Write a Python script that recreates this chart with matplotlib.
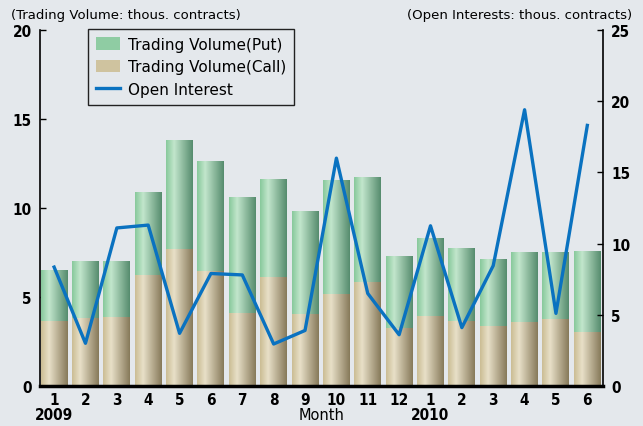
import numpy as np
import matplotlib
matplotlib.use('Agg')
import matplotlib.pyplot as plt
from matplotlib.patches import Patch
from matplotlib.lines import Line2D
from matplotlib import font_manager as fm

months = ['1', '2', '3', '4', '5', '6', '7', '8', '9', '10', '11', '12',
          '1', '2', '3', '4', '5', '6']
total_vol = [6.5, 7.0, 7.0, 10.9, 13.8, 12.6, 10.6, 11.6, 9.8, 11.5, 11.7, 7.25,
             8.3, 7.7, 7.1, 7.5, 7.5, 7.6]
call_vol = [3.65, 3.8, 3.9, 6.25, 7.7, 6.45, 4.1, 6.15, 4.05, 5.15, 5.85, 3.25,
            3.95, 3.65, 3.35, 3.6, 3.75, 3.05]
put_vol = [t - c for t, c in zip(total_vol, call_vol)]
open_interest = [8.35, 3.0, 11.1, 11.3, 3.7, 7.9, 7.8, 2.95, 3.9, 16.0, 6.5, 3.6,
                 11.25, 4.1, 8.45, 19.4, 5.1, 18.3]

BG = '#e4e8ec'
BLUE = '#0a72c0'

# condensed bold font for the numbers
bold_fp = fm.FontProperties(family='DejaVu Sans', weight='bold', stretch='condensed', size=11)

fig = plt.figure(figsize=(6.43, 4.27), dpi=100, facecolor=BG)
ax = fig.add_axes([40/643, 1 - 387/427, 563/643, 356/427])
ax.set_facecolor(BG)

x = np.arange(len(months))
width = 0.86


def hex2rgb(h):
    return [int(h[i:i + 2], 16) / 255 for i in (1, 3, 5)]


def shade(c_edge, c_light, c_dark):
    # cylinder-like gradient across bar
    c_edge, c_light, c_dark = hex2rgb(c_edge), hex2rgb(c_light), hex2rgb(c_dark)
    cols = []
    for p in np.linspace(0, 1, 64):
        if p < 0.3:
            t = p / 0.3
            a, b = c_edge, c_light
        else:
            t = (p - 0.3) / 0.7
            a, b = c_light, c_dark
        cols.append([a[i] + (b[i] - a[i]) * t for i in range(3)])
    return np.array([cols])


green = shade('#88c99c', '#c2e6cc', '#568c6e')
tan = shade('#cbbd94', '#e8e0c8', '#877a5a')

for xi, c, p in zip(x, call_vol, put_vol):
    ax.imshow(tan, extent=(xi - width/2, xi + width/2, 0, c), aspect='auto', zorder=2)
    ax.imshow(green, extent=(xi - width/2, xi + width/2, c, c + p), aspect='auto', zorder=2)

ax.set_xlim(-0.45, 17.5)
ax.set_ylim(0, 20)
ax.set_yticks([0, 5, 10, 15, 20])
ax.set_yticklabels(['0', '5', '10', '15', '20'], fontproperties=bold_fp)
ax.set_xticks(x)
ax.set_xticklabels(months, fontproperties=bold_fp)
ax.tick_params(axis='x', length=0, pad=4)
ax.tick_params(axis='y', direction='in', length=4, width=1, pad=6)

ax.spines['top'].set_visible(False)
ax.spines['right'].set_visible(False)
ax.spines['left'].set_linewidth(1.2)
ax.spines['bottom'].set_linewidth(2.5)

ax2 = ax.twinx()
ax2.plot(x, open_interest, color=BLUE, lw=2.4, solid_joinstyle='round', zorder=5)
ax2.set_ylim(0, 25)
ax2.set_yticks([0, 5, 10, 15, 20, 25])
ax2.set_yticklabels(['0', '5', '10', '15', '20', '25'], fontproperties=bold_fp)
ax2.tick_params(axis='y', direction='in', length=4, width=1, pad=6)
ax2.spines['top'].set_visible(False)
ax2.spines['left'].set_visible(False)
ax2.spines['bottom'].set_visible(False)
ax2.spines['right'].set_linewidth(1.2)

fig.text(11/643, 1 - 16/427, '(Trading Volume: thous. contracts)', fontsize=9.5,
         va='center', ha='left')
fig.text(632/643, 1 - 16/427, '(Open Interests: thous. contracts)', fontsize=9.5,
         va='center', ha='right')
fig.text(322/643, 1 - 416/427, 'Month', fontsize=10.5, va='center', ha='center')
fig.text(54/643, 1 - 416/427, '2009', fontproperties=bold_fp, va='center', ha='center')
fig.text(430/643, 1 - 416/427, '2010', fontproperties=bold_fp, va='center', ha='center')

handles = [Patch(facecolor='#8fcca3', edgecolor='none'),
           Patch(facecolor='#cfc39f', edgecolor='none'),
           Line2D([0], [0], color=BLUE, lw=2.4)]
leg = ax.legend(handles, ['Trading Volume(Put)', 'Trading Volume(Call)', 'Open Interest'],
                loc='upper left', bbox_to_anchor=(88/643, 1 - 30/427),
                bbox_transform=fig.transFigure, borderaxespad=0, fontsize=11,
                frameon=True, fancybox=False, edgecolor='#222222', facecolor=BG,
                framealpha=1, handlelength=1.6, handleheight=0.9, handletextpad=0.5,
                borderpad=0.5, labelspacing=0.5)
leg.get_frame().set_linewidth(1.0)
leg.set_zorder(10)

fig.savefig('out.png', dpi=100, facecolor=BG)
